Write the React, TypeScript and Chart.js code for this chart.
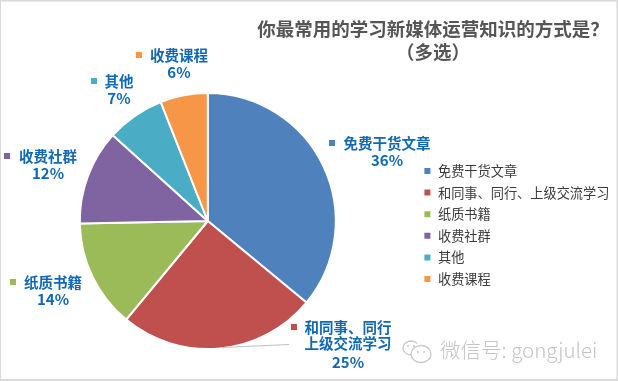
import React, { useEffect, useRef } from "react";
import { Chart, registerables } from "chart.js";

Chart.register(...registerables);

const categories = ["免费干货文章", "和同事、同行、上级交流学习", "纸质书籍", "收费社群", "其他", "收费课程"];
const labelLines = [["免费干货文章"], ["和同事、同行", "上级交流学习"], ["纸质书籍"], ["收费社群"], ["其他"], ["收费课程"]];
const values = [36, 25, 13.7, 12, 7.3, 6];
const colors = ["#4f81bd", "#c0504d", "#9bbb59", "#8064a2", "#4bacc6", "#f79646"];
const titleLines = ["你最常用的学习新媒体运营知识的方式是？", "（多选）"];
const watermark = "微信号: gongjulei";

const FONT = '"Noto Sans CJK SC", "Noto Sans", sans-serif';
// Label layout: text centre x, first line y, marker left x
const labelLayout = [
  { cx: 387, y: 143, mx: 329 },
  { cx: 348, y: 327, mx: 291 },
  { cx: 53, y: 282, mx: 10 },
  { cx: 48, y: 156, mx: 4 },
  { cx: 119, y: 81, mx: 91 },
  { cx: 179, y: 55, mx: 136 },
];

const framePlugin = {
  id: "frame",
  beforeDraw(chart: any) {
    const { ctx, width, height } = chart;
    ctx.save();
    ctx.fillStyle = "#ffffff";
    ctx.fillRect(0, 0, width, height);
    ctx.strokeStyle = "#d9d9d9";
    ctx.lineWidth = 2;
    ctx.strokeRect(0, 0.5, width - 0.5, height - 1.5);
    ctx.restore();
  },
};

const legendShift = {
  id: "legendShift",
  afterLayout(chart: any) {
    const l = chart.legend;
    const dy = 4;
    const dx = 425 - 10 - l.left;
    l.top += dy;
    l.bottom += dy;
    l.left += dx;
    l.right += dx;
  },
};

const annotate = {
  id: "annotate",
  afterDraw(chart: any) {
    const { ctx } = chart;
    ctx.save();
    // title
    ctx.fillStyle = "#555555";
    ctx.font = `bold 18.5px ${FONT}`;
    ctx.textAlign = "center";
    ctx.textBaseline = "middle";
    titleLines.forEach((t, i) => ctx.fillText(t, 433, 29 + i * 23));

    // leader line
    ctx.strokeStyle = "#bfbfbf";
    ctx.lineWidth = 1;
    ctx.beginPath();
    ctx.moveTo(222, 347.5);
    ctx.lineTo(289, 344.5);
    ctx.stroke();

    // data labels
    values.forEach((v, i) => {
      const p = labelLayout[i];
      ctx.fillStyle = colors[i];
      ctx.fillRect(p.mx, p.y - 3, 6, 6);
      ctx.fillStyle = "#1268b3";
      ctx.font = `bold 14.5px ${FONT}`;
      const lines = labelLines[i];
      lines.forEach((t, j) => ctx.fillText(t, p.cx, p.y + j * 16.5));
      ctx.font = `bold 15px ${FONT}`;
      ctx.fillText(`${Math.round(v)}%`, p.cx, p.y + lines.length * 17.5);
    });

    // watermark
    ctx.strokeStyle = "#c8c8c8";
    ctx.lineWidth = 1.3;
    ctx.beginPath();
    ctx.ellipse(411, 348, 8, 7, 0, 0.3, 5.6);
    ctx.stroke();
    ctx.fillStyle = "#ffffff";
    ctx.beginPath();
    ctx.ellipse(421, 354, 10, 8.5, 0, 0, Math.PI * 2);
    ctx.fill();
    ctx.stroke();
    ctx.fillStyle = "#c8c8c8";
    [[408, 346], [414, 346], [418, 352], [424, 352]].forEach(([x, y]) => {
      ctx.beginPath();
      ctx.arc(x, y, 1, 0, Math.PI * 2);
      ctx.fill();
    });
    ctx.fillStyle = "#c4c4c4";
    ctx.textAlign = "left";
    ctx.font = `300 20.5px ${FONT}`;
    ctx.fillText(watermark, 440, 350);
    ctx.restore();
  },
};

export default function App() {
  const ref = useRef<HTMLCanvasElement>(null);
  useEffect(() => {
    document.body.style.margin = "0";
    const chart = new Chart(ref.current!, {
      type: "pie",
      data: {
        labels: categories,
        datasets: [
          { data: values, backgroundColor: colors, borderColor: "#ffffff", borderWidth: 2 },
        ],
      },
      options: {
        responsive: false,
        animation: false,
        layout: { padding: { top: 92, bottom: 31, left: 2, right: 0 } },
        plugins: {
          tooltip: { enabled: false },
          title: { display: false },
          legend: {
            display: true,
            position: "right",
            labels: {
              font: { family: FONT, size: 13.2 },
              color: "#3a3a3a",
              boxWidth: 8,
              boxHeight: 8,
              padding: 8.4,
            },
          },
        },
      },
      plugins: [framePlugin, legendShift, annotate],
    } as any);
    return () => chart.destroy();
  }, []);
  return <canvas ref={ref} width={618} height={381} style={{ display: "block" }} />;
}
